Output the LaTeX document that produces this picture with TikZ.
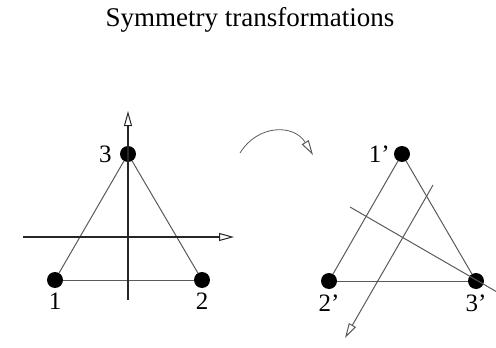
\documentclass[tikz,border=0pt]{standalone}
\usepackage{fontspec}
\setmainfont{Liberation Serif}
\usetikzlibrary{arrows.meta}
\definecolor{edgegray}{HTML}{5A5A5A}
\tikzset{
    vertex/.style={circle, fill=black, inner sep=0pt, minimum size=16pt},
    vlabel/.style={font=\fontsize{25}{25}\selectfont, inner sep=0pt},
    edge/.style={draw=edgegray, line width=1pt},
    axis/.style={draw=black!85, line width=1.3pt},
    opentip/.style={-{Triangle[open, length=15pt, width=8pt, line width=1pt]}},
    titletext/.style={font=\fontsize{27}{27}\selectfont}
}

\begin{document}
\begin{tikzpicture}[x=1pt, y=-1pt]
\useasboundingbox (0,0) rectangle (496,348);

% === TITLE ===
\node (title) [titletext] at (250,20) {Symmetry transformations};

% === ORIGINAL TRIANGLE ===
\node (p3) [vertex, label={[vlabel, label distance=8pt]left:3}]  at (128,154) {};
\node (p1) [vertex, label={[vlabel, label distance=5pt]below:1}] at (55,280)  {};
\node (p2) [vertex, label={[vlabel, label distance=5pt]below:2}] at (202,280) {};

\draw [edge] (p1) -- (p2);
\draw [edge] (p1) -- (p3);
\draw [edge] (p2) -- (p3);

\coordinate (vbot)   at (128,300);
\coordinate (vtop)   at (128,111);
\coordinate (hleft)  at (23,237);
\coordinate (hright) at (234,237);
\draw [axis, opentip] (vbot) -- (vtop);
\draw [axis, opentip] (hleft) -- (hright);

% === ROTATION ARROW ===
\coordinate (cstart) at (240,153);
\coordinate (cend)   at (313,155);
\draw [edge, line width=0.8pt, opentip] (cstart) .. controls (258,124) and (294,124) .. (cend);

% === TRANSFORMED TRIANGLE ===
\node (q1) [vertex, label={[vlabel, label distance=4pt]left:1'}]  at (402,154) {};
\node (q2) [vertex, label={[vlabel, label distance=5pt]below:2'}] at (329,281) {};
\node (q3) [vertex, label={[vlabel, label distance=5pt]below:3'}] at (476,281) {};

\draw [edge] (q2) -- (q3);
\draw [edge] (q1) -- (q2);
\draw [edge] (q1) -- (q3);

\coordinate (mleft)  at (350,207);
\coordinate (mright) at (497,292);
\draw [edge] (mleft) -- (mright);

\coordinate (aup)   at (433,185);
\coordinate (adown) at (345,338);
\draw [edge, opentip] (aup) -- (adown);

\end{tikzpicture}
\end{document}
